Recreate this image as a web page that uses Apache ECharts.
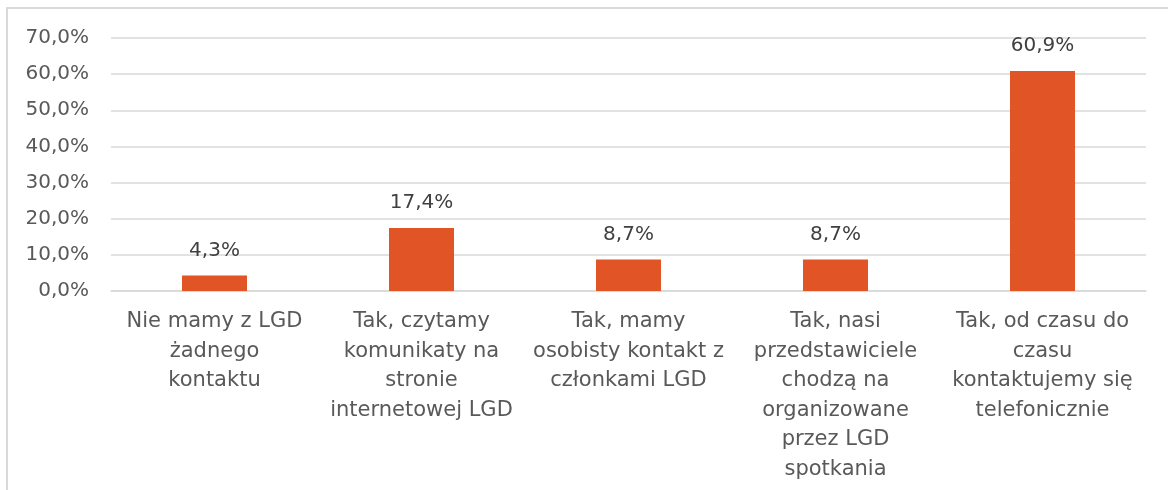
<!DOCTYPE html>
<html>
<head>
<meta charset="utf-8">
<script src="https://cdn.jsdelivr.net/npm/echarts@6/dist/echarts.min.js"></script>
<style>
  html, body { margin: 0; padding: 0; background: #fff; }
  #chart { width: 1168px; height: 490px; }
</style>
</head>
<body>
<div id="chart"></div>
<script>
// kategorie (z ręcznym łamaniem jak w oryginale)
var categories = [
  'Nie mamy z LGD\nżadnego\nkontaktu',
  'Tak, czytamy\nkomunikaty na\nstronie\ninternetowej LGD',
  'Tak, mamy\nosobisty kontakt z\nczłonkami LGD',
  'Tak, nasi\nprzedstawiciele\nchodzą na\norganizowane\nprzez LGD\nspotkania',
  'Tak, od czasu do\nczasu\nkontaktujemy się\ntelefonicznie'
]
var values = [4.3, 17.4, 8.7, 8.7, 60.9]
var yMin = 0
var yMax = 70
var yStep = 10

var textColor = '#595959'
var fontName = 'DejaVu Sans'

function pl(v, d) {
  return v.toFixed(d).replace('.', ',') + '%'
}

var myChart = echarts.init(document.getElementById('chart'))
myChart.setOption({
  animation: false,
  graphic: [
    {
      type: 'rect',
      shape: { x: 7, y: 8, width: 1300, height: 600 },
      style: { fill: 'none', stroke: '#d9d9d9', lineWidth: 2 },
      silent: true,
    },
  ],
  grid: {
    left: 111,
    right: 22,
    top: 38,
    bottom: 199,
  },
  xAxis: {
    type: 'category',
    data: categories,
    axisLine: { lineStyle: { color: '#d9d9d9', width: 1.5 } },
    axisTick: { show: false },
    axisLabel: {
      interval: 0,
      color: textColor,
      fontFamily: fontName,
      fontSize: 21,
      lineHeight: 29.5,
      margin: 16,
    },
  },
  yAxis: {
    type: 'value',
    min: yMin,
    max: yMax,
    interval: yStep,
    axisLine: { show: false },
    axisTick: { show: false },
    splitLine: { lineStyle: { color: '#d9d9d9', width: 1.5 } },
    axisLabel: {
      color: textColor,
      fontFamily: fontName,
      fontSize: 20,
      margin: 22,
      formatter: function (v) {
        return pl(v, 1)
      },
    },
  },
  series: [
    {
      type: 'bar',
      data: values,
      barWidth: 65,
      itemStyle: { color: '#E05426' },
      label: {
        show: true,
        position: 'top',
        distance: 15,
        color: '#404040',
        fontFamily: fontName,
        fontSize: 20,
        formatter: function (p) {
          return pl(p.value, 1)
        },
      },
    },
  ],
})
</script>
</body>
</html>
